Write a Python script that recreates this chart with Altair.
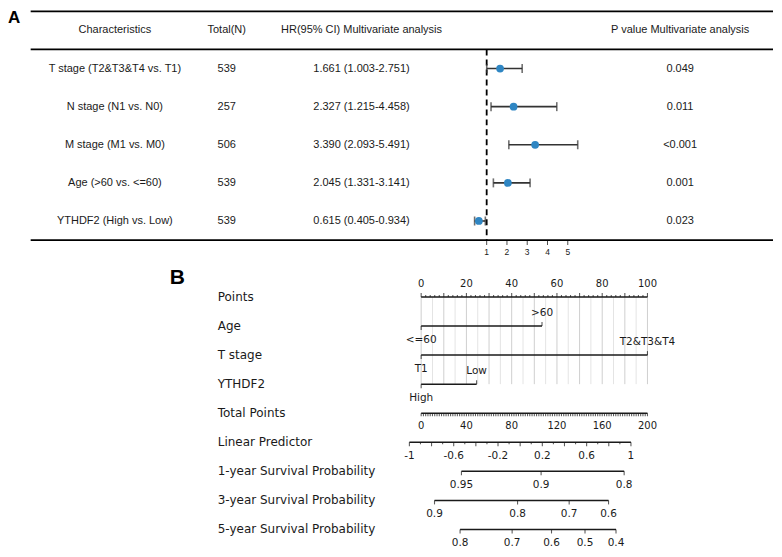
import altair as alt
import pandas as pd

# ---------------- Panel A: multivariate Cox table / forest plot ----------------
characteristics = ["T stage (T2&T3&T4 vs. T1)", "N stage (N1 vs. N0)",
                   "M stage (M1 vs. M0)", "Age (>60 vs. <=60)", "YTHDF2 (High vs. Low)"]
total_n = [539, 257, 506, 539, 539]
hr = [1.661, 2.327, 3.390, 2.045, 0.615]
ci_low = [1.003, 1.215, 2.093, 1.331, 0.405]
ci_high = [2.751, 4.458, 5.491, 3.141, 0.934]
p_values = ["0.049", "0.011", "<0.001", "0.001", "0.023"]
headers = ["Characteristics", "Total(N)", "HR(95% CI) Multivariate analysis",
           "P value Multivariate analysis"]
hr_axis_ticks = [1, 2, 3, 4, 5]

# ---------------- Panel B: nomogram ----------------
row_names = ["Points", "Age", "T stage", "YTHDF2", "Total Points", "Linear Predictor",
             "1-year Survival Probability", "3-year Survival Probability",
             "5-year Survival Probability"]
points_labels = [0, 20, 40, 60, 80, 100]
age_levels = ["<=60", ">60"]
age_points = [0, 53.4]
tstage_levels = ["T1", "T2&T3&T4"]
tstage_points = [0, 100]
ythdf2_levels = ["High", "Low"]
ythdf2_points = [0, 24.5]
total_points_labels = [0, 40, 80, 120, 160, 200]
lp_labels = [-1, -0.6, -0.2, 0.2, 0.6, 1]
lp_end_points = [-5.2, 92.7]          # Points-scale position of LP = -1 and LP = 1
surv1_labels = [0.95, 0.9, 0.8]
surv1_total_points = [35.6, 106.0, 179.4]
surv3_labels = [0.9, 0.8, 0.7, 0.6]
surv3_total_points = [11.8, 85.2, 130.8, 165.6]
surv5_labels = [0.8, 0.7, 0.6, 0.5, 0.4]
surv5_total_points = [34.4, 80.4, 115.2, 144.8, 172.2]

# ---------------- layout ----------------
W = 766
HA, HB = 250, 290
FONT_A = "Liberation Sans"
FONT_B = "DejaVu Sans"
INK = "#1a1a1a"

A_ROW = 229 / 6.0
a_top = -0.5 - 1.0 / A_ROW
ya = alt.Scale(domain=[a_top, a_top + HA / A_ROW], reverse=True, nice=False, zero=False)
HR1_X, HR_PX = 479.3, 20.3
xa = alt.Scale(domain=[1 - HR1_X / HR_PX, 1 + (W - HR1_X) / HR_PX], nice=False, zero=False)


def XA(f):
    return alt.X(f, type="quantitative", scale=xa, axis=None)


def YA(f):
    return alt.Y(f, type="quantitative", scale=ya, axis=None)


# table text
col_x = [107, 219, 354, 673]
tt = []
for j, h in enumerate(headers):
    tt.append({"col": j, "idx": 0, "label": h})
for i in range(len(characteristics)):
    vals = [characteristics[i], str(total_n[i]),
            f"{hr[i]:.3f} ({ci_low[i]:.3f}-{ci_high[i]:.3f})", p_values[i]]
    for j, v in enumerate(vals):
        tt.append({"col": j, "idx": i + 1, "label": v})
table_df = pd.DataFrame(tt)

forest_df = pd.DataFrame({"idx": list(range(1, len(hr) + 1)), "hr": hr,
                          "lo": ci_low, "hi": ci_high})
lines_df = pd.DataFrame({"idx": [-0.5, 0.5, 5.5]})
ref_df = pd.DataFrame({"hr": [1], "y1": [0.5], "y2": [5.5]})
hrtick_df = pd.DataFrame({"hr": hr_axis_ticks, "idx": [5.5] * len(hr_axis_ticks),
                          "t": [str(v) for v in hr_axis_ticks]})

a_layers = []
a_layers.append(alt.Chart(lines_df).mark_rule(color="black", strokeWidth=1.8).encode(
    y=YA("idx"), x=alt.value(22.7), x2=alt.value(W)))
for j, cx in enumerate(col_x):
    a_layers.append(alt.Chart(table_df).transform_filter(alt.datum.col == j).mark_text(
        font=FONT_A, fontSize=11, color=INK).encode(
        y=YA("idx"), x=alt.value(cx), text="label:N"))
a_layers.append(alt.Chart(ref_df).mark_rule(color="black", strokeWidth=1.8,
                                            strokeDash=[6, 4]).encode(
    x=XA("hr"), y=YA("y1"), y2="y2:Q"))
a_layers.append(alt.Chart(forest_df).mark_rule(color="#333333", strokeWidth=1.6).encode(
    x=XA("lo"), x2="hi:Q", y=YA("idx")))
for f in ["lo", "hi"]:
    a_layers.append(alt.Chart(forest_df).mark_tick(orient="vertical", size=9, thickness=1.6,
                                                   color="#333333").encode(
        x=XA(f), y=YA("idx")))
a_layers.append(alt.Chart(forest_df).mark_circle(size=60, color="#2f86c3", opacity=1).encode(
    x=XA("hr"), y=YA("idx")))
a_layers.append(alt.Chart(hrtick_df).mark_tick(orient="vertical", size=5, thickness=1,
                                               yOffset=2.5, color="black").encode(
    x=XA("hr"), y=YA("idx")))
a_layers.append(alt.Chart(hrtick_df).mark_text(font=FONT_A, fontSize=8.5, dy=12,
                                               color=INK).encode(
    x=XA("hr"), y=YA("idx"), text="t:N"))
a_layers.append(alt.Chart(pd.DataFrame({"t": ["A"]})).mark_text(
    font=FONT_A, fontSize=17, fontWeight="bold", align="left", baseline="alphabetic",
    color="black").encode(x=alt.value(0), y=alt.value(12.5), text="t:N"))

panel_a = alt.layer(*a_layers).properties(width=W, height=HA)

# ---------------- Panel B ----------------
PT0_X, PT_PX = 413.7, 2.266
xb = alt.Scale(domain=[-PT0_X / PT_PX, (W - PT0_X) / PT_PX], nice=False, zero=False)
B_ROW, B_ROW0 = 29.1, 37.0
yb = alt.Scale(domain=[-B_ROW0 / B_ROW, (HB - B_ROW0) / B_ROW], reverse=True,
               nice=False, zero=False)


def XB(f):
    return alt.X(f, type="quantitative", scale=xb, axis=None)


def YB(f):
    return alt.Y(f, type="quantitative", scale=yb, axis=None)


def lp_pos(v):
    return lp_end_points[0] + (v + 1) / 2.0 * (lp_end_points[1] - lp_end_points[0])


def fmt(v):
    return f"{v:g}"


segs, ticks, labels = [], [], []

# Points axis
segs.append((0, 0, 100))
for v in range(0, 101, 2):
    ticks.append((0, v, "up4" if v % 10 == 0 else "up2"))
for v in points_labels:
    labels.append((0, v, fmt(v), -13, 10))

# categorical predictors
for r, (levs, pts) in zip([1, 2, 3], [(age_levels, age_points), (tstage_levels, tstage_points),
                                      (ythdf2_levels, ythdf2_points)]):
    segs.append((r, min(pts), max(pts)))
    ticks.append((r, pts[0], "down4"))
    ticks.append((r, pts[1], "up4"))
    labels.append((r, pts[0], levs[0], 13.5, 10.5))
    labels.append((r, pts[1], levs[1], -13.5, 10.5))

# Total points
segs.append((4, 0, 100))
for v in range(0, 201, 2):
    ticks.append((4, v / 2.0, "down3"))
for v in total_points_labels:
    labels.append((4, v / 2.0, fmt(v), 13, 10))

# Linear predictor
segs.append((5, lp_pos(-1), lp_pos(1)))
for k in range(21):
    v = -1 + 0.1 * k
    ticks.append((5, lp_pos(v), "down4" if k % 2 == 0 else "down2"))
for v in lp_labels:
    labels.append((5, lp_pos(v), fmt(v), 13.5, 10.5))

# survival probabilities
for r, (labs, tps) in zip([6, 7, 8], [(surv1_labels, surv1_total_points),
                                      (surv3_labels, surv3_total_points),
                                      (surv5_labels, surv5_total_points)]):
    segs.append((r, min(tps) / 2.0, max(tps) / 2.0))
    for lab, tp in zip(labs, tps):
        ticks.append((r, tp / 2.0, "down4"))
        labels.append((r, tp / 2.0, fmt(lab), 14, 10.5))

seg_df = pd.DataFrame(segs, columns=["row", "x1", "x2"])
tick_df = pd.DataFrame(ticks, columns=["row", "x", "kind"])
lab_df = pd.DataFrame(labels, columns=["row", "x", "t", "dy", "fs"])
grid_df = pd.DataFrame({"x": list(range(0, 101, 5))})
grid_df["major"] = grid_df["x"] % 10 == 0
grid_df["r0"] = 0
grid_df["r1"] = 3
names_df = pd.DataFrame({"row": list(range(len(row_names))), "name": row_names})

b_layers = []
for major, col in [(False, "#e4e4e4"), (True, "#cfcfcf")]:
    b_layers.append(alt.Chart(grid_df).transform_filter(alt.datum.major == major).mark_rule(
        color=col, strokeWidth=1).encode(x=XB("x"), y=YB("r0"), y2="r1:Q"))
b_layers.append(alt.Chart(seg_df).mark_rule(color=INK, strokeWidth=1.5).encode(
    x=XB("x1"), x2="x2:Q", y=YB("row")))
tick_styles = {"up4": (4, -2), "up2": (2, -1), "down4": (4, 2), "down2": (2, 1),
               "down3": (3, 1.5)}
for kind, (sz, off) in tick_styles.items():
    b_layers.append(alt.Chart(tick_df).transform_filter(alt.datum.kind == kind).mark_tick(
        orient="vertical", size=sz, thickness=1.1, yOffset=off, color=INK).encode(
        x=XB("x"), y=YB("row")))
for dy in sorted(lab_df["dy"].unique()):
    b_layers.append(alt.Chart(lab_df).transform_filter(alt.datum.dy == float(dy)).mark_text(
        font=FONT_B, dy=float(dy), color=INK).encode(
        x=XB("x"), y=YB("row"), text="t:N",
        size=alt.Size("fs:Q", scale=None, legend=None)))
b_layers.append(alt.Chart(names_df).mark_text(font=FONT_B, fontSize=12, align="left",
                                              color=INK).encode(
    x=alt.value(210), y=YB("row"), text="name:N"))
b_layers.append(alt.Chart(pd.DataFrame({"t": ["B"]})).mark_text(
    font=FONT_A, fontSize=21, fontWeight="bold", align="left", baseline="alphabetic",
    color="black").encode(x=alt.value(162), y=alt.value(24), text="t:N"))

panel_b = alt.layer(*b_layers).properties(width=W, height=HB)

chart = alt.vconcat(panel_a, panel_b, spacing=0, bounds="flush").properties(
    padding=0).configure_view(stroke=None)

chart.save("out.html", embed_options={"renderer": "svg", "actions": False})
